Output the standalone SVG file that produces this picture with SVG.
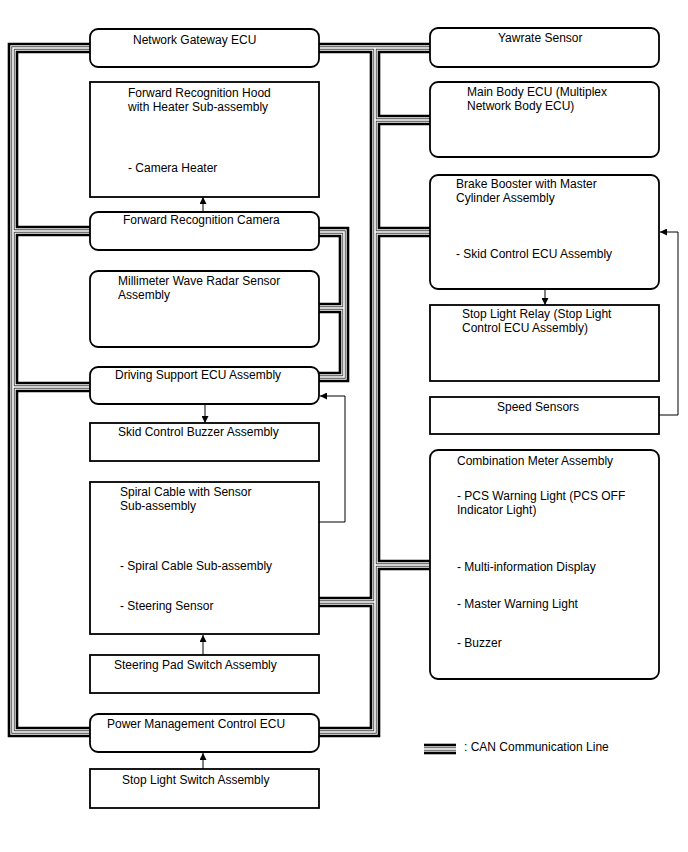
<svg xmlns="http://www.w3.org/2000/svg" xmlns:xlink="http://www.w3.org/1999/xlink" width="688" height="852" viewBox="0 0 688 852">
<style>
.box{fill:#fff;stroke:#000;stroke-width:1.8}
.t{font-family:"Liberation Sans",Arial,sans-serif;font-size:12px;fill:#000}
.l1{stroke:#000;stroke-width:10.6}
.l2{stroke:#fff;stroke-width:5.4}
.l3{stroke:#444;stroke-width:3.4}
.l4{stroke:#fff;stroke-width:1.6}
.arr{fill:none;stroke:#000;stroke-width:1}
</style>
<defs>
<marker id="ah" viewBox="0 0 10 10" refX="10" refY="5" markerWidth="7" markerHeight="7" markerUnits="userSpaceOnUse" orient="auto">
<path d="M0,0 L10,5 L0,10 Z" fill="#000"/>
</marker>
<path id="bus" fill="none" stroke-linejoin="miter" d="M90,48 H13 V732 H90 M13,231 H90 M13,387 H90 M319,48 H430 M375,48 V732 H319 M375,120 H430 M375,232 H430 M375,565 H430 M375,602 H319 M319,232 H344 V377 H319 M344,308 H319"/>
<path id="leg" fill="none" d="M424,749 H456"/>
</defs>
<rect width="688" height="852" fill="#fff"/>
<g id="connectors">
<use xlink:href="#bus" class="l1"/>
<use xlink:href="#bus" class="l2"/>
<use xlink:href="#bus" class="l3"/>
<use xlink:href="#bus" class="l4"/>
<path class="arr" marker-end="url(#ah)" d="M203,212 V197"/>
<path class="arr" marker-end="url(#ah)" d="M205,404 V423"/>
<path class="arr" marker-end="url(#ah)" d="M319,522 H345 V396 H320"/>
<path class="arr" marker-end="url(#ah)" d="M203,655 V635"/>
<path class="arr" marker-end="url(#ah)" d="M203,769 V753"/>
<path class="arr" marker-end="url(#ah)" d="M545,289 V305"/>
<path class="arr" marker-end="url(#ah)" d="M659,415 H678 V232 H660"/>
</g>
<g id="n-gateway"><rect class="box" x="90" y="29" width="229" height="38" rx="8"/><text class="t" x="133" y="44">Network Gateway ECU</text></g>
<g id="n-hood"><rect class="box" x="90" y="82" width="229" height="115"/><text class="t" x="128" y="97">Forward Recognition Hood</text><text class="t" x="128" y="111">with Heater Sub-assembly</text><text class="t" x="128" y="172">- Camera Heater</text></g>
<g id="n-camera"><rect class="box" x="90" y="212" width="229" height="38" rx="8"/><text class="t" x="123" y="224">Forward Recognition Camera</text></g>
<g id="n-radar"><rect class="box" x="90" y="271" width="229" height="76" rx="8"/><text class="t" x="118" y="285">Millimeter Wave Radar Sensor</text><text class="t" x="118" y="299">Assembly</text></g>
<g id="n-dsecu"><rect class="box" x="90" y="367" width="229" height="37" rx="8"/><text class="t" x="115" y="379">Driving Support ECU Assembly</text></g>
<g id="n-buzzer"><rect class="box" x="90" y="423" width="229" height="38"/><text class="t" x="118" y="436">Skid Control Buzzer Assembly</text></g>
<g id="n-spiral"><rect class="box" x="90" y="482" width="229" height="152"/><text class="t" x="120" y="496">Spiral Cable with Sensor</text><text class="t" x="120" y="510">Sub-assembly</text><text class="t" x="120" y="570">- Spiral Cable Sub-assembly</text><text class="t" x="120" y="610">- Steering Sensor</text></g>
<g id="n-pad"><rect class="box" x="90" y="655" width="229" height="38"/><text class="t" x="114" y="669">Steering Pad Switch Assembly</text></g>
<g id="n-pm"><rect class="box" x="90" y="714" width="229" height="38" rx="8"/><text class="t" x="107" y="728">Power Management Control ECU</text></g>
<g id="n-stopsw"><rect class="box" x="90" y="769" width="229" height="39"/><text class="t" x="122" y="784">Stop Light Switch Assembly</text></g>
<g id="n-yaw"><rect class="box" x="430" y="28" width="229" height="39" rx="8"/><text class="t" x="498" y="42">Yawrate Sensor</text></g>
<g id="n-body"><rect class="box" x="430" y="82" width="229" height="75" rx="8"/><text class="t" x="467" y="96">Main Body ECU (Multiplex</text><text class="t" x="467" y="110">Network Body ECU)</text></g>
<g id="n-brake"><rect class="box" x="430" y="175" width="229" height="114" rx="8"/><text class="t" x="456" y="188">Brake Booster with Master</text><text class="t" x="456" y="202">Cylinder Assembly</text><text class="t" x="456" y="258">- Skid Control ECU Assembly</text></g>
<g id="n-relay"><rect class="box" x="430" y="305" width="229" height="76"/><text class="t" x="462" y="318">Stop Light Relay (Stop Light</text><text class="t" x="462" y="332">Control ECU Assembly)</text></g>
<g id="n-speed"><rect class="box" x="430" y="397" width="229" height="37"/><text class="t" x="497" y="411">Speed Sensors</text></g>
<g id="n-meter"><rect class="box" x="430" y="450" width="229" height="229" rx="8"/><text class="t" x="457" y="465">Combination Meter Assembly</text><text class="t" x="457" y="500">- PCS Warning Light (PCS OFF</text><text class="t" x="457" y="514">Indicator Light)</text><text class="t" x="457" y="571">- Multi-information Display</text><text class="t" x="457" y="608">- Master Warning Light</text><text class="t" x="457" y="647">- Buzzer</text></g>
<g id="legend">
<use xlink:href="#leg" class="l1"/>
<use xlink:href="#leg" class="l2"/>
<use xlink:href="#leg" class="l3"/>
<use xlink:href="#leg" class="l4"/>
<text class="t" x="464" y="751">: CAN Communication Line</text>
</g>
</svg>
